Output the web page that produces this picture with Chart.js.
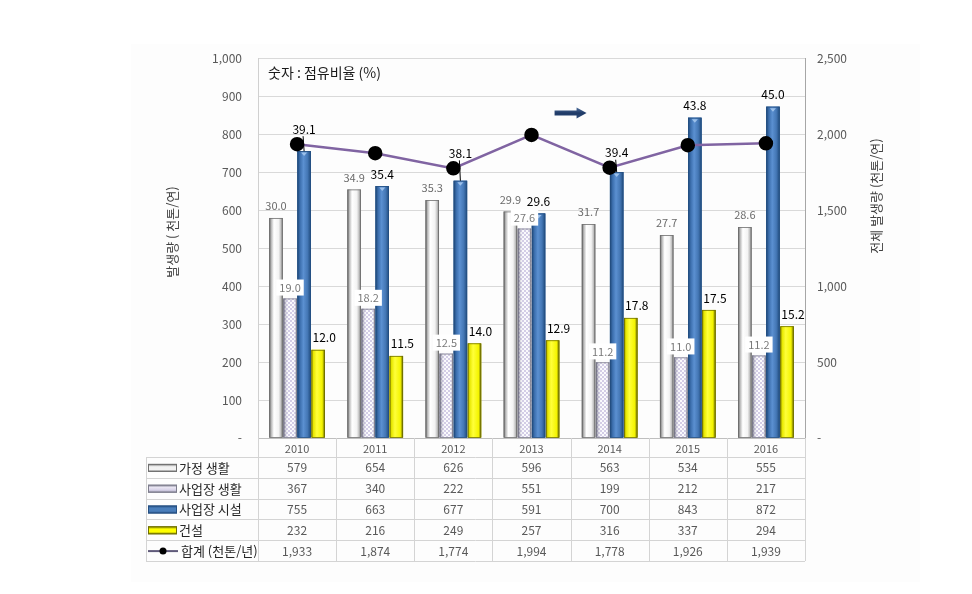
<!DOCTYPE html>
<html lang="ko">
<head>
<meta charset="utf-8">
<script src="https://cdn.jsdelivr.net/npm/chart.js@4.4.1/dist/chart.umd.min.js"></script>
<style>
  html, body { margin: 0; padding: 0; background: #fff; }
  #wrap { position: relative; width: 972px; height: 594px; }
</style>
</head>
<body>
<div id="wrap"><canvas id="wasteChart" width="972" height="594"></canvas></div>
<script>
const years = ["2010", "2011", "2012", "2013", "2014", "2015", "2016"];
const seriesNames = ["가정 생활", "사업장 생활", "사업장 시설", "건설"];
const totalName = "합계 (천톤/년)";

// 발생량 (천톤/연)
const householdVals = [579, 654, 626, 596, 563, 534, 555];
const bizLifeVals = [367, 340, 222, 551, 199, 212, 217];
const bizFacilityVals = [755, 663, 677, 591, 700, 843, 872];
const constructionVals = [232, 216, 249, 257, 316, 337, 294];
const totalVals = [1933, 1874, 1774, 1994, 1778, 1926, 1939];

// 점유비율 (%)
const householdPct = [30.0, 34.9, 35.3, 29.9, 31.7, 27.7, 28.6];
const bizLifePct = [19.0, 18.2, 12.5, 27.6, 11.2, 11.0, 11.2];
const bizFacilityPct = [39.1, 35.4, 38.1, 29.6, 39.4, 43.8, 45.0];
const constructionPct = [12.0, 11.5, 14.0, 12.9, 17.8, 17.5, 15.2];

// blue labels that sit above the total line marker, with a leader line
const liftedFacilityLabels = [0, 2, 4];

const FONT = '"Noto Sans CJK KR", "Noto Sans", sans-serif';

const canvas = document.getElementById("wasteChart");
const ctx = canvas.getContext("2d");

// lavender cross-hatch pattern
function makeHatch() {
    const c = document.createElement("canvas");
    c.width = 4; c.height = 4;
    const p = c.getContext("2d");
    p.fillStyle = "#d3cde6";
    p.fillRect(0, 0, 4, 4);
    p.fillStyle = "#fafafd";
    p.fillRect(0, 0, 2, 2);
    p.fillRect(2, 2, 2, 2);
    return ctx.createPattern(c, "repeat");
}
const hatch = makeHatch();

const barStyles = [
    { base: "#f2f2f2", edge: "#6f6f6f",
      stops: [[0, "#555"], [0.14, "#b4b4b4"], [0.35, "#fff"], [0.7, "#f3f3f3"], [0.88, "#bdbdbd"], [1, "#666"]] },
    { base: "#d4cfe6", edge: "#7d7d8c", pattern: true,
      stops: [[0, "rgba(50,50,70,0.85)"], [0.16, "rgba(110,110,130,0.3)"], [0.4, "rgba(255,255,255,0)"], [0.8, "rgba(255,255,255,0)"], [1, "rgba(50,50,70,0.7)"]] },
    { base: "#4a7ebb", edge: "#244f82",
      stops: [[0, "#1c4574"], [0.2, "#3c6fae"], [0.45, "#5b90d1"], [0.75, "#4477b5"], [1, "#1f4a7c"]] },
    { base: "#ffff00", edge: "#6f6f00",
      stops: [[0, "#8a8a00"], [0.15, "#e8e800"], [0.4, "#ffff3a"], [0.8, "#f4f400"], [1, "#5f5f00"]] }
];

const barValues = [householdVals, bizLifeVals, bizFacilityVals, constructionVals];
const barPcts = [householdPct, bizLifePct, bizFacilityPct, constructionPct];

const barShading = {
    id: "barShading",
    afterDatasetDraw(chart, args) {
        if (args.meta.type !== "bar") return;
        const st = barStyles[args.index];
        const c = chart.ctx;
        c.save();
        args.meta.data.forEach(el => {
            const { x, y, base, width } = el.getProps(["x", "y", "base", "width"], true);
            const l = x - width / 2, h = base - y;
            if (st.pattern) {
                c.fillStyle = hatch;
                c.fillRect(l, y, width, h);
            }
            const g = c.createLinearGradient(l, 0, l + width, 0);
            st.stops.forEach(s => g.addColorStop(s[0], s[1]));
            c.fillStyle = g;
            c.fillRect(l, y, width, h);
            c.strokeStyle = st.edge;
            c.lineWidth = 0.8;
            c.strokeRect(l + 0.4, y + 0.4, width - 0.8, h - 0.4);
            if (args.index === 2) {
                // little bevel cap on the blue bars
                c.fillStyle = "#9cc0ea";
                c.beginPath();
                c.moveTo(x - 3, y + 1.5);
                c.lineTo(x + 3, y + 1.5);
                c.lineTo(x, y + 5);
                c.closePath();
                c.fill();
            }
        });
        c.restore();
    }
};

function text(c, str, x, y, font, color, align) {
    c.font = font;
    c.fillStyle = color;
    c.textAlign = align || "center";
    c.textBaseline = "middle";
    c.fillText(str, x, y);
}

const pctLabels = {
    id: "pctLabels",
    afterDatasetsDraw(chart) {
        const c = chart.ctx;
        const lineMeta = chart.getDatasetMeta(4);
        c.save();
        barPcts.forEach((pcts, si) => {
            const meta = chart.getDatasetMeta(si);
            meta.data.forEach((el, i) => {
                const label = pcts[i].toFixed(1);
                if (si === 0) {
                    text(c, label, el.x, el.y - 12, "11px " + FONT, "#6a6a6a");
                } else if (si === 1) {
                    c.font = "11px " + FONT;
                    const w = c.measureText(label).width + 6;
                    c.fillStyle = "#ffffff";
                    c.fillRect(el.x - w / 2, el.y - 19, w, 16);
                    text(c, label, el.x, el.y - 11, "11px " + FONT, "#7a7a7a");
                } else if (si === 2) {
                    if (liftedFacilityLabels.includes(i)) {
                        const ly = lineMeta.data[i].y - 15;
                        c.strokeStyle = "#000";
                        c.lineWidth = 1;
                        c.beginPath();
                        c.moveTo(el.x - 1, ly + 7);
                        c.lineTo(el.x, el.y);
                        c.stroke();
                        text(c, label, el.x, ly, "12px " + FONT, "#000");
                    } else {
                        text(c, label, el.x, el.y - 12, "12px " + FONT, "#000");
                    }
                } else {
                    text(c, label, el.x + 6, el.y - 12, "12px " + FONT, "#000");
                }
            });
        });
        c.restore();
    }
};

const frameAndTable = {
    id: "frameAndTable",
    beforeDraw(chart) {
        const c = chart.ctx;
        c.save();
        c.fillStyle = "#ffffff";
        c.fillRect(0, 0, chart.width, chart.height);
        c.fillStyle = "#fdfdfd";
        c.fillRect(131, 44, 789, 538);
        c.restore();
    },
    afterDraw(chart) {
        const c = chart.ctx;
        const area = chart.chartArea;
        const xs = chart.scales.x;
        const yS = chart.scales.y;
        const catW = area.width / years.length;
        const legendLeft = 146;
        const top = area.bottom;
        const yearRowH = 19;
        const rowH = 20.8;
        const rows = [...barValues, totalVals];
        const tableBottom = top + yearRowH + rowH * rows.length;
        c.save();

        // grid of the data table
        c.strokeStyle = "#d4d4d4";
        c.lineWidth = 1;
        c.beginPath();
        for (let i = 0; i <= years.length; i++) {
            const gx = Math.round(area.left + i * catW) + 0.5;
            c.moveTo(gx, top);
            c.lineTo(gx, tableBottom);
        }
        c.moveTo(legendLeft + 0.5, top + yearRowH);
        c.lineTo(legendLeft + 0.5, tableBottom);
        for (let r = 0; r <= rows.length; r++) {
            const gy = Math.round(top + yearRowH + r * rowH) + 0.5;
            c.moveTo(legendLeft, gy);
            c.lineTo(area.right, gy);
        }
        c.stroke();

        years.forEach((yr, i) => {
            text(c, yr, xs.getPixelForValue(i), top + yearRowH / 2 + 1, "11px " + FONT, "#595959");
        });

        rows.forEach((vals, r) => {
            const cy = top + yearRowH + r * rowH + rowH / 2 + 0.5;
            vals.forEach((v, i) => {
                text(c, v.toLocaleString("en-US"), xs.getPixelForValue(i), cy, "12px " + FONT, "#595959");
            });
            // legend key
            const kx = legendLeft + 2;
            if (r < 4) {
                const st = barStyles[r];
                const g = c.createLinearGradient(0, cy - 4, 0, cy + 4);
                g.addColorStop(0, st.edge);
                g.addColorStop(0.35, r === 1 ? "#e8e4f2" : st.base);
                g.addColorStop(0.7, st.base);
                g.addColorStop(1, st.edge);
                c.fillStyle = g;
                c.fillRect(kx, cy - 4, 29, 8);
                c.strokeStyle = st.edge;
                c.strokeRect(kx + 0.5, cy - 3.5, 28, 7);
                text(c, seriesNames[r], kx + 31, cy, "13px " + FONT, "#262626", "left");
            } else {
                c.strokeStyle = "#5f5a7a";
                c.lineWidth = 2;
                c.beginPath();
                c.moveTo(kx, cy);
                c.lineTo(kx + 30, cy);
                c.stroke();
                c.fillStyle = "#000";
                c.beginPath();
                c.arc(kx + 15, cy, 3.5, 0, Math.PI * 2);
                c.fill();
                text(c, totalName, kx + 33, cy, "13px " + FONT, "#262626", "left");
            }
        });

        // note and arrow pointing to the right axis
        text(c, "숫자 : 점유비율 (%)", area.left + 10, area.top + 15, "14px " + FONT, "#1a1a1a", "left");
        const ax = (xs.getPixelForValue(3) + xs.getPixelForValue(4)) / 2;
        const ay = yS.getPixelForValue(855);
        const ag = c.createLinearGradient(0, ay - 5, 0, ay + 5);
        ag.addColorStop(0, "#4a6a98");
        ag.addColorStop(0.5, "#1f3a66");
        ag.addColorStop(1, "#2c4a78");
        c.fillStyle = ag;
        c.beginPath();
        c.moveTo(ax - 16, ay - 2.5);
        c.lineTo(ax + 6, ay - 2.5);
        c.lineTo(ax + 6, ay - 5.5);
        c.lineTo(ax + 16, ay);
        c.lineTo(ax + 6, ay + 5.5);
        c.lineTo(ax + 6, ay + 2.5);
        c.lineTo(ax - 16, ay + 2.5);
        c.closePath();
        c.fill();

        // axis titles, both reading bottom to top
        c.font = "13px " + FONT;
        c.fillStyle = "#404040";
        c.textAlign = "center";
        c.textBaseline = "middle";
        c.translate(172, 232);
        c.rotate(-Math.PI / 2);
        c.fillText("발생량 ( 천톤/연)", 0, 0);
        c.setTransform(1, 0, 0, 1, 0, 0);
        c.translate(876, 196);
        c.rotate(-Math.PI / 2);
        c.fillText("전체 발생량 (천톤/연)", 0, 0);
        c.restore();
    }
};

const barDataset = (i, vals) => ({
    type: "bar",
    label: seriesNames[i],
    data: vals,
    backgroundColor: barStyles[i].base,
    borderWidth: 0,
    yAxisID: "y",
    categoryPercentage: 0.72,
    barPercentage: 0.96,
    order: 1
});

new Chart(ctx, {
    type: "bar",
    data: {
        labels: years,
        datasets: [
            barDataset(0, householdVals),
            barDataset(1, bizLifeVals),
            barDataset(2, bizFacilityVals),
            barDataset(3, constructionVals),
            {
                type: "line",
                label: totalName,
                data: totalVals,
                yAxisID: "y1",
                borderColor: "#8064a2",
                borderWidth: 2.5,
                pointRadius: 6,
                pointBackgroundColor: "#000",
                pointBorderColor: "#000",
                tension: 0,
                order: 0
            }
        ]
    },
    options: {
        responsive: false,
        animation: false,
        devicePixelRatio: 1,
        layout: { padding: { top: 58, left: 0, right: 0, bottom: 0 } },
        plugins: { legend: { display: false }, tooltip: { enabled: false } },
        scales: {
            x: {
                grid: { display: false },
                ticks: { display: false },
                border: { display: true, color: "#bfbfbf" },
                afterFit(s) { s.height = 156; }
            },
            y: {
                position: "left",
                min: 0,
                max: 1000,
                ticks: {
                    stepSize: 100,
                    padding: 16,
                    color: "#595959",
                    font: { family: FONT, size: 12 },
                    callback: v => v === 0 ? "-" : v.toLocaleString("en-US")
                },
                grid: { color: "#d9d9d9", drawTicks: false },
                border: { color: "#d0d0d0" },
                afterFit(s) { s.width = 258; }
            },
            y1: {
                position: "right",
                min: 0,
                max: 2500,
                ticks: {
                    stepSize: 500,
                    padding: 12,
                    color: "#595959",
                    font: { family: FONT, size: 12 },
                    callback: v => v === 0 ? "-" : v.toLocaleString("en-US")
                },
                grid: { drawOnChartArea: false, drawTicks: false },
                border: { color: "#a6a6a6" },
                afterFit(s) { s.width = 167; }
            }
        }
    },
    plugins: [barShading, pctLabels, frameAndTable]
});
</script>
</body>
</html>
